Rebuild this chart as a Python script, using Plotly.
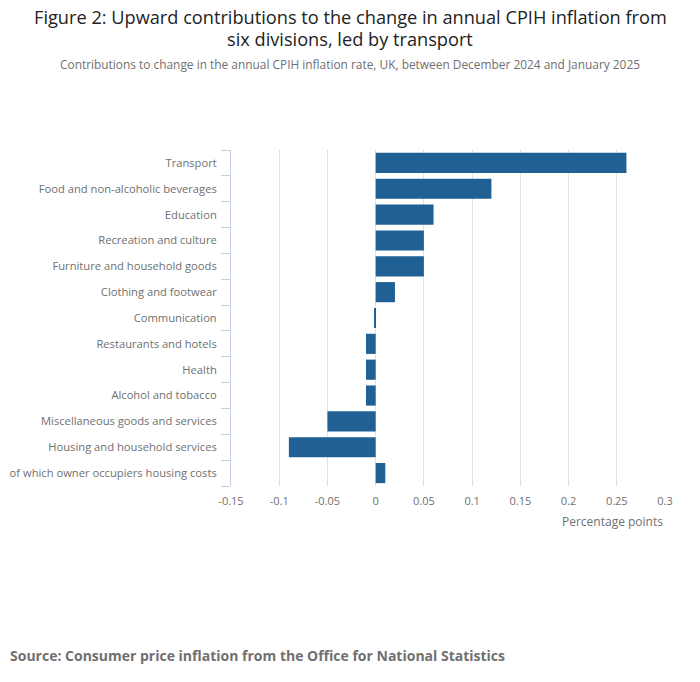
import plotly.graph_objects as go

categories = [
    "Transport",
    "Food and non-alcoholic beverages",
    "Education",
    "Recreation and culture",
    "Furniture and household goods",
    "Clothing and footwear",
    "Communication",
    "Restaurants and hotels",
    "Health",
    "Alcohol and tobacco",
    "Miscellaneous goods and services",
    "Housing and household services",
    "of which owner occupiers housing costs",
]
values = [0.26, 0.12, 0.06, 0.05, 0.05, 0.02, -0.001, -0.01, -0.01, -0.01, -0.05, -0.09, 0.01]
x_ticks = [-0.15, -0.1, -0.05, 0, 0.05, 0.1, 0.15, 0.2, 0.25, 0.3]
x_tick_labels = ["-0.15", "-0.1", "-0.05", "0", "0.05", "0.1", "0.15", "0.2", "0.25", "0.3"]

FONT = "Open Sans"
GREY = "#707070"

W, H = 700, 682
PL, PR, PT, PB = 231, 665, 150, 486  # plot area in window pixels
ml, mr, mt, mb = PL, W - PR, PT, H - PB
plot_w = W - ml - mr
plot_h = H - mt - mb


def px_x(x):
    return (x - ml) / plot_w


def px_y(y):
    return (H - mb - y) / plot_h


fig = go.Figure(
    go.Bar(
        x=values,
        y=categories,
        orientation="h",
        marker=dict(color="#206095", line=dict(width=0)),
        hoverinfo="x+y",
    )
)

fig.update_layout(
    width=W,
    height=H,
    paper_bgcolor="white",
    plot_bgcolor="white",
    margin=dict(l=ml, r=mr, t=mt, b=mb, autoexpand=False),
    bargap=0.22,
    showlegend=False,
    font=dict(family=FONT, color=GREY, size=11),
)

fig.update_xaxes(
    range=[-0.15, 0.3],
    tickvals=x_ticks,
    ticktext=x_tick_labels,
    showgrid=True,
    gridcolor="#e2e2e3",
    gridwidth=1,
    zeroline=False,
    showline=False,
    ticks="",
    ticklabelstandoff=7,
    automargin=False,
    tickfont=dict(size=11, color=GREY),
)
fig.update_yaxes(
    categoryorder="array",
    categoryarray=categories[::-1],
    autorange=False,
    range=[-0.5, len(categories) - 0.5],
    showgrid=False,
    zeroline=False,
    showline=True,
    linecolor="#c5cfe3",
    linewidth=1,
    ticks="outside",
    tickson="boundaries",
    ticklen=9,
    tickcolor="#c5cfe3",
    ticklabelstandoff=11,
    automargin=False,
    tickfont=dict(size=11.2, color=GREY),
)

title_lines = [
    "Figure 2: Upward contributions to the change in annual CPIH inflation from",
    "six divisions, led by transport",
]
for line, ypx in zip(title_lines, [17, 39]):
    fig.add_annotation(
        text=line,
        x=px_x(350), xref="paper", xanchor="center",
        y=px_y(ypx), yref="paper", yanchor="middle",
        showarrow=False,
        borderpad=0,
        font=dict(family=FONT, size=18.2, color="#222222"),
    )
fig.add_annotation(
    text="Contributions to change in the annual CPIH inflation rate, UK, between December 2024 and January 2025",
    x=px_x(350), xref="paper", xanchor="center",
    y=px_y(64), yref="paper", yanchor="middle",
    showarrow=False,
    font=dict(family=FONT, size=11.9, color=GREY),
)
fig.add_annotation(
    text="Percentage points",
    x=px_x(665), xref="paper", xanchor="right",
    y=px_y(521), yref="paper", yanchor="middle",
    showarrow=False,
    font=dict(family=FONT, size=12, color=GREY),
)
fig.add_annotation(
    text="<b>Source: Consumer price inflation from the Office for National Statistics</b>",
    x=px_x(8), xref="paper", xanchor="left",
    y=px_y(655), yref="paper", yanchor="middle",
    showarrow=False,
    font=dict(family=FONT, size=14, color=GREY),
)

fig.write_html(
    "out.html",
    config={"displayModeBar": False},
    post_script="document.body.style.margin='0px';",
)
